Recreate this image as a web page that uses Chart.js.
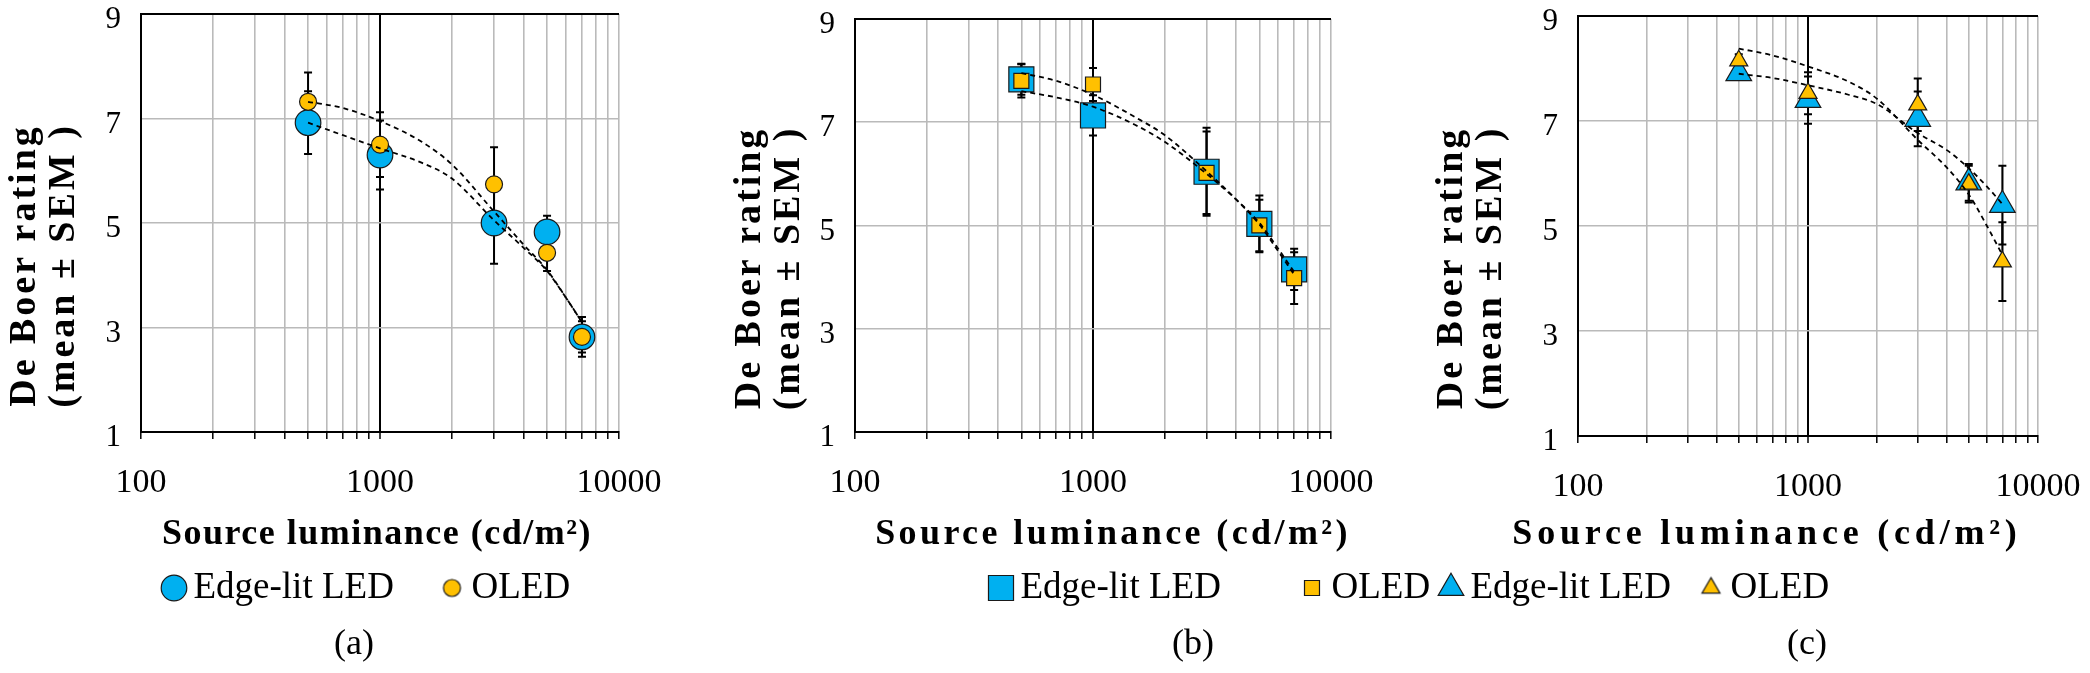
<!DOCTYPE html>
<html><head><meta charset="utf-8">
<script src="https://cdn.jsdelivr.net/npm/chart.js@4.4.1/dist/chart.umd.min.js"></script>
<style>
html,body{margin:0;padding:0;background:#fff;}
body{width:2090px;height:673px;position:relative;overflow:hidden;}
canvas{position:absolute;top:0;}
</style></head><body>
<canvas id="ca"></canvas>
<canvas id="cb"></canvas>
<canvas id="cc"></canvas>
<script>
// ---------- data ----------
const luminance = [500, 1000, 3000, 5000, 7000];
const trendLuminance = [500, 700, 1000, 1500, 2000, 3000, 4000, 5000, 6000, 7000];
const xGridValues = [100,200,300,400,500,600,700,800,900,1000,2000,3000,4000,5000,6000,7000,8000,9000,10000];
const xTickLabels = ['100','1000','10000'];
const yTickValues = [1,3,5,7,9];
const seriesNames = ['Edge-lit LED','OLED'];
const panelLabels = ['(a)','(b)','(c)'];
const xAxisTitle = 'Source luminance (cd/m²)';
const yAxisTitle = ['De Boer rating','(mean ± SEM )'];

// panel (a)
const ledA = [6.92, 6.30, 5.00, 4.83, 2.82];
const ledErrA = [0.60, 0.66, 0.78, 0.31, 0.38];
const oledA = [7.32, 6.50, 5.74, 4.43, 2.82];
const oledErrA = [0.56, 0.62, 0.71, 0.35, 0.30];
const ledTrendA = [6.92, 6.68, 6.43, 6.15, 5.85, 5.05, 4.52, 4.08, 3.57, 3.10];
const oledTrendA = [7.32, 7.20, 6.95, 6.55, 6.12, 5.22, 4.58, 4.10, 3.57, 3.10];
// panel (b)
const ledB = [7.83, 7.13, 6.04, 5.03, 4.15];
const ledErrB = [0.30, 0.39, 0.85, 0.55, 0.40];
const oledB = [7.80, 7.73, 6.02, 5.00, 3.98];
const oledErrB = [0.32, 0.32, 0.80, 0.50, 0.50];
const ledTrendB = [7.60, 7.48, 7.30, 6.95, 6.62, 6.00, 5.50, 5.05, 4.55, 4.10];
const oledTrendB = [7.95, 7.80, 7.53, 7.10, 6.75, 6.05, 5.50, 5.02, 4.50, 4.05];
// panel (c)
const ledC = [7.91, 7.40, 7.04, 5.83, 5.40];
const ledErrC = [0.12, 0.45, 0.52, 0.35, 0.75];
const oledC = [8.15, 7.53, 7.31, 5.80, 4.32];
const oledErrC = [0.12, 0.40, 0.50, 0.35, 0.75];
const ledTrendC = [7.90, 7.82, 7.68, 7.50, 7.32, 6.77, 6.45, 6.10, 5.75, 5.42];
const oledTrendC = [8.38, 8.25, 8.04, 7.75, 7.42, 6.64, 6.12, 5.60, 5.00, 4.45];

// ---------- styling / layout ----------
const H = 673;
const FAMILY = "'Liberation Serif', 'Times New Roman', serif";
const LED_COLOR = '#00B0F0';
const OLED_COLOR = '#FFC000';
const GRID_GRAY = '#bababa';

const panels = [
  { id:'ca', left:0, width:700, area:{left:141,right:619,top:11,bottom:432},
    style:'circle', ledR:12.8, oledR:8.5,
    led:ledA, ledErr:ledErrA, oled:oledA, oledErr:oledErrA, ledTrend:ledTrendA, oledTrend:oledTrendA,
    xTitleCx:377, xSpacing:'1.5px', yTitleCx:25, yTitleCy:264,
    legend:{led:174, oled:452, y:588}, label:{x:354, y:645} },
  { id:'cb', left:700, width:800, area:{left:855,right:1331,top:11,bottom:432},
    style:'rect', ledR:17.7, oledR:10.6,
    led:ledB, ledErr:ledErrB, oled:oledB, oledErr:oledErrB, ledTrend:ledTrendB, oledTrend:oledTrendB,
    xTitleCx:1113, xSpacing:'3.4px', yTitleCx:750, yTitleCy:264,
    legend:{led:1001, oled:1312, y:588}, label:{x:1193, y:645} },
  { id:'cc', left:1395, width:695, area:{left:1578,right:2038,top:12,bottom:436},
    style:'triangle', ledR:14.8, oledR:10.4,
    led:ledC, ledErr:ledErrC, oled:oledC, oledErr:oledErrC, ledTrend:ledTrendC, oledTrend:oledTrendC,
    xTitleCx:1767, xSpacing:'4.8px', yTitleCx:1452, yTitleCy:266,
    legend:{led:1451, oled:1711, y:588}, label:{x:1807, y:645} }
];

const LEGEND_FS = 37, PSW = 2;
const X_TITLE_FS = 36, Y_TITLE_FS = 38, Y_TITLE_LH = 1.03, LABEL_FS = 36;

function markerImage(style, r, fill) {
  const c = document.createElement('canvas');
  const s = Math.ceil(2 * r + 6);
  c.width = s; c.height = s;
  const g = c.getContext('2d');
  g.fillStyle = fill; g.strokeStyle = '#1a1a1a'; g.lineWidth = 1.2;
  Chart.helpers.drawPoint(g, {pointStyle: style, radius: r, borderWidth: 1.2, rotation: 0}, s / 2, s / 2);
  return c;
}

function wrapTitle(scale, dx, dy, spacing, widen) {
  if (!scale || scale.__wrapped) return;
  scale.__wrapped = true;
  const orig = scale.drawTitle;
  scale.drawTitle = function () {
    const l = this.left, r = this.right, t = this.top, b = this.bottom;
    this.left += dx - widen; this.right += dx + widen; this.top += dy; this.bottom += dy;
    const ctx = this.ctx;
    ctx.letterSpacing = spacing;
    orig.call(this);
    ctx.letterSpacing = '0px';
    this.left = l; this.right = r; this.top = t; this.bottom = b;
  };
}

const placement = {
  id: 'placement',
  beforeLayout(chart) {
    const lg = chart.legend;
    if (lg && !lg.__patched) {
      lg.__patched = true;
      const origFit = lg.fit;
      lg.fit = function () { origFit.call(this); this.height = 0; };
    }
  },
  afterLayout(chart, args, o) {
    const lg = chart.legend;
    if (lg) { lg.left = o.legendLeft; lg.right = o.legendLeft + 3000; lg.top = o.legendTop; lg.bottom = lg.top + 150; }
    const tb = chart.titleBlock;
    if (tb) { tb.left = o.labelX - 400; tb.right = o.labelX + 400; tb.top = o.labelY - o.labelHalf; tb.bottom = tb.top + 2 * o.labelHalf; }
    wrapTitle(chart.scales.x, o.xDx, 0, o.xSpacing, 300);
    wrapTitle(chart.scales.y, 0, o.yDy, o.ySpacing, 0);
  }
};

const errorBars = {
  id: 'errorBars',
  beforeDatasetsDraw(chart) {
    const ctx = chart.ctx, xs = chart.scales.x, ys = chart.scales.y;
    ctx.save();
    ctx.strokeStyle = '#000'; ctx.lineWidth = 2;
    chart.data.datasets.forEach(ds => {
      if (!ds.errors) return;
      ds.data.forEach((p, i) => {
        const e = ds.errors[i];
        const x = xs.getPixelForValue(p.x);
        const y1 = ys.getPixelForValue(p.y + e), y2 = ys.getPixelForValue(p.y - e);
        ctx.beginPath();
        ctx.moveTo(x, y1); ctx.lineTo(x, y2);
        ctx.moveTo(x - 4, y1); ctx.lineTo(x + 4, y1);
        ctx.moveTo(x - 4, y2); ctx.lineTo(x + 4, y2);
        ctx.stroke();
      });
    });
    ctx.restore();
  }
};

const measureCtx = document.createElement('canvas').getContext('2d');
measureCtx.font = LEGEND_FS + 'px ' + FAMILY;
const ledTextW = measureCtx.measureText(seriesNames[0]).width;

function pts(xs, ys) { return xs.map((x, i) => ({x: x, y: ys[i]})); }

panels.forEach((p, idx) => {
  const cv = document.getElementById(p.id);
  cv.width = p.width; cv.height = H;
  cv.style.left = p.left + 'px';
  cv.style.width = p.width + 'px'; cv.style.height = H + 'px';

  const chartL = p.area.left - p.left, chartR = p.area.right - p.left;
  const labelLH = LABEL_FS * 1.2;
  const Hx = H - labelLH - p.area.bottom;
  const xTitleLH = X_TITLE_FS * 1.2;
  const xTitlePB = (p.area.bottom + Hx) - xTitleLH / 2 - 535;
  const yTitleLH = Y_TITLE_FS * Y_TITLE_LH;
  const yTitlePT = (p.yTitleCx - p.left) - yTitleLH / 2;
  const legendPad = (p.legend.oled - p.legend.led) - (PSW + LEGEND_FS / 2 + ledTextW);
  const legendLeft = (p.legend.led - p.left) - PSW / 2 - legendPad;
  const legendTop = p.legend.y - legendPad - LEGEND_FS / 2;

  const ledImg = markerImage(p.style, p.ledR, LED_COLOR);
  const oledImg = markerImage(p.style, p.oledR, OLED_COLOR);

  const dashed = { type: 'scatter', showLine: true, pointRadius: 0, pointHoverRadius: 0,
    borderColor: '#000', borderWidth: 1.8, borderDash: [5, 4], cubicInterpolationMode: 'monotone', fill: false };

  new Chart(cv, {
    type: 'scatter',
    data: {
      datasets: [
        Object.assign({}, dashed, { label: seriesNames[0] + ' trend', data: pts(trendLuminance, p.ledTrend), order: 0 }),
        Object.assign({}, dashed, { label: seriesNames[1] + ' trend', data: pts(trendLuminance, p.oledTrend), order: 0 }),
        { label: seriesNames[1], data: pts(luminance, p.oled), errors: p.oledErr, order: 1,
          pointStyle: p.style, pointRadius: p.oledR, pointHoverRadius: p.oledR,
          backgroundColor: OLED_COLOR, borderColor: '#1a1a1a', borderWidth: 1.2 },
        { label: seriesNames[0], data: pts(luminance, p.led), errors: p.ledErr, order: 2,
          pointStyle: p.style, pointRadius: p.ledR, pointHoverRadius: p.ledR,
          backgroundColor: LED_COLOR, borderColor: '#1a1a1a', borderWidth: 1.2 }
      ]
    },
    plugins: [placement, errorBars],
    options: {
      responsive: false, animation: false, devicePixelRatio: 1,
      layout: { padding: { left: 0, right: p.width - chartR, top: p.area.top, bottom: 0 } },
      scales: {
        x: {
          type: 'logarithmic', min: 100, max: 10000,
          afterBuildTicks: (s) => { s.ticks = xGridValues.map(v => ({ value: v })); },
          afterFit: (s) => { s.height = Hx; s.paddingLeft = 0; s.paddingRight = 0; },
          grid: {
            color: (c) => (c.tick && c.tick.value === 1000) ? '#000' : GRID_GRAY,
            lineWidth: (c) => (c.tick && c.tick.value === 1000) ? 2 : 1.6,
            tickColor: '#000', tickLength: 7, tickWidth: 1.5, drawTicks: true
          },
          border: { display: true, color: '#000', width: 2 },
          ticks: {
            autoSkip: false, maxRotation: 0, minRotation: 0, padding: 24, color: '#000',
            font: { family: FAMILY, size: 34 },
            callback: (v) => xTickLabels.includes(String(v)) ? String(v) : ''
          },
          title: { display: true, text: xAxisTitle, color: '#000',
            font: { family: FAMILY, size: X_TITLE_FS, weight: 'bold', lineHeight: 1.2 },
            padding: { top: 0, bottom: xTitlePB } }
        },
        y: {
          type: 'linear', min: 1, max: 9,
          afterBuildTicks: (s) => { s.ticks = yTickValues.map(v => ({ value: v })); },
          afterFit: (s) => { s.width = chartL; s.paddingTop = 0; s.paddingBottom = 0; },
          grid: {
            color: (c) => (c.tick && c.tick.value === 9) ? '#000' : GRID_GRAY,
            lineWidth: (c) => (c.tick && c.tick.value === 9) ? 2 : 1.6,
            drawTicks: false
          },
          border: { display: true, color: '#000', width: 2 },
          ticks: { padding: 20, labelOffset: 6, color: '#000', font: { family: FAMILY, size: 31 },
            callback: (v) => String(v) },
          title: { display: true, text: yAxisTitle, color: '#000',
            font: { family: FAMILY, size: Y_TITLE_FS, weight: 'bold', lineHeight: Y_TITLE_LH },
            padding: { top: yTitlePT, bottom: 0 } }
        }
      },
      plugins: {
        tooltip: { enabled: false },
        legend: {
          display: true, position: 'bottom', align: 'start',
          labels: {
            usePointStyle: true, pointStyleWidth: PSW, padding: legendPad,
            font: { family: FAMILY, size: LEGEND_FS }, color: '#000',
            generateLabels: () => [
              { text: seriesNames[0], pointStyle: ledImg, fillStyle: LED_COLOR, strokeStyle: '#1a1a1a', lineWidth: 0, hidden: false, fontColor: '#000', datasetIndex: 3 },
              { text: seriesNames[1], pointStyle: oledImg, fillStyle: OLED_COLOR, strokeStyle: '#1a1a1a', lineWidth: 0, hidden: false, fontColor: '#000', datasetIndex: 2 }
            ]
          }
        },
        title: { display: true, text: panelLabels[idx], position: 'bottom', color: '#000',
          font: { family: FAMILY, size: LABEL_FS, weight: 'normal', lineHeight: 1.2 }, padding: 0 },
        placement: {
          legendLeft: legendLeft, legendTop: legendTop,
          labelX: p.label.x - p.left, labelY: p.label.y, labelHalf: labelLH / 2,
          xDx: (p.xTitleCx - p.left) - (chartL + chartR) / 2, xSpacing: p.xSpacing,
          yDy: p.yTitleCy - (p.area.top + p.area.bottom) / 2, ySpacing: '3px'
        }
      }
    }
  });
});
</script>
</body></html>
